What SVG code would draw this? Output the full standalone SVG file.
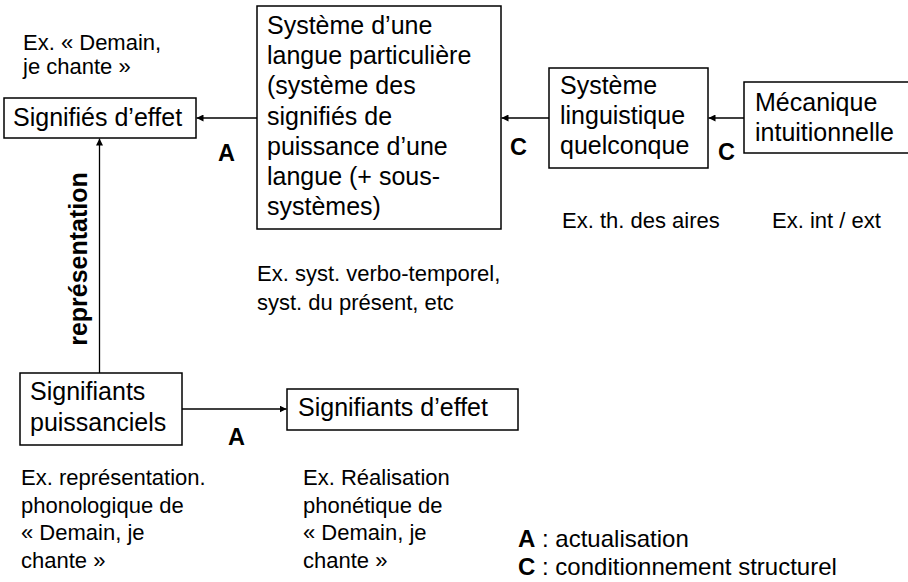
<svg xmlns="http://www.w3.org/2000/svg" width="908" height="582" viewBox="0 0 908 582">
  <style>
    .box { fill: #ffffff; stroke: #000000; stroke-width: 1.5; }
    .node { font-family: "Liberation Sans", Arial, sans-serif; font-size: 25px; fill: #000000; }
    .ex { font-family: "Liberation Sans", Arial, sans-serif; font-size: 22px; fill: #000000; }
    .lbl { font-family: "Liberation Sans", Arial, sans-serif; font-size: 23.5px; font-weight: bold; fill: #000000; }
    .vlbl { font-family: "Liberation Sans", Arial, sans-serif; font-size: 25px; font-weight: bold; fill: #000000; }
    .leg { font-family: "Liberation Sans", Arial, sans-serif; font-size: 24px; fill: #000000; }
    .edge { stroke: #000000; stroke-width: 1.3; fill: none; marker-end: url(#arr); }
  </style>
  <defs>
    <marker id="arr" viewBox="0 0 10 10" refX="10" refY="5" markerWidth="7" markerHeight="7" markerUnits="userSpaceOnUse" orient="auto">
      <path d="M0,0 L10,5 L0,10 z" fill="#000000"/>
    </marker>
  </defs>
  <rect width="908" height="582" fill="#ffffff"/>

  <g id="connectors">
    <line class="edge" x1="257" y1="118" x2="196.5" y2="118"/>
    <line class="edge" x1="549" y1="118" x2="501.5" y2="118"/>
    <line class="edge" x1="744" y1="118" x2="708.5" y2="118"/>
    <line class="edge" x1="99.5" y1="373" x2="99.5" y2="138.5"/>
    <line class="edge" x1="182" y1="409" x2="286.5" y2="409"/>
    <text class="lbl" x="218" y="161">A</text>
    <text class="lbl" x="510" y="155">C</text>
    <text class="lbl" x="718" y="160">C</text>
    <text class="lbl" x="228" y="445">A</text>
    <text class="vlbl" transform="translate(86.5,259) rotate(-90)" text-anchor="middle">représentation</text>
  </g>

  <g id="signifies-effet">
    <rect class="box" x="4" y="98" width="192" height="40"/>
    <text class="node" x="13" y="126">Signifiés d’effet</text>
  </g>

  <g id="systeme-langue">
    <rect class="box" x="257" y="6" width="244" height="223"/>
    <text class="node" x="267" y="34">Système d’une</text>
    <text class="node" x="267" y="64">langue particulière</text>
    <text class="node" x="267" y="94">(système des</text>
    <text class="node" x="267" y="124.5">signifiés de</text>
    <text class="node" x="267" y="155">puissance d’une</text>
    <text class="node" x="267" y="185">langue (+ sous-</text>
    <text class="node" x="267" y="215">systèmes)</text>
  </g>

  <g id="systeme-linguistique">
    <rect class="box" x="549" y="68" width="159" height="100"/>
    <text class="node" x="560" y="94">Système</text>
    <text class="node" x="560" y="124">linguistique</text>
    <text class="node" x="560" y="154">quelconque</text>
  </g>

  <g id="mecanique">
    <rect class="box" x="744" y="82" width="170" height="71"/>
    <text class="node" x="755" y="111">Mécanique</text>
    <text class="node" x="755" y="141">intuitionnelle</text>
  </g>

  <g id="signifiants-puissanciels">
    <rect class="box" x="20" y="373" width="162" height="72"/>
    <text class="node" x="30" y="400">Signifiants</text>
    <text class="node" x="30" y="431">puissanciels</text>
  </g>

  <g id="signifiants-effet">
    <rect class="box" x="287" y="389" width="231" height="41"/>
    <text class="node" x="298" y="416">Signifiants d’effet</text>
  </g>

  <g id="examples">
    <text class="ex" x="23" y="50">Ex. « Demain,</text>
    <text class="ex" x="23" y="74">je chante »</text>
    <text class="ex" x="257" y="281">Ex. syst. verbo-temporel,</text>
    <text class="ex" x="257" y="310">syst. du présent, etc</text>
    <text class="ex" x="562" y="228">Ex. th. des aires</text>
    <text class="ex" x="772" y="228">Ex. int / ext</text>
    <text class="ex" x="21" y="485">Ex. représentation.</text>
    <text class="ex" x="21" y="513">phonologique de</text>
    <text class="ex" x="21" y="540">« Demain, je</text>
    <text class="ex" x="21" y="568">chante »</text>
    <text class="ex" x="303" y="485">Ex. Réalisation</text>
    <text class="ex" x="303" y="513">phonétique de</text>
    <text class="ex" x="303" y="540">« Demain, je</text>
    <text class="ex" x="303" y="568">chante »</text>
  </g>

  <g id="legend">
    <text class="leg" x="518" y="547"><tspan font-weight="bold">A</tspan> : actualisation</text>
    <text class="leg" x="518" y="575"><tspan font-weight="bold">C</tspan> : conditionnement structurel</text>
  </g>
</svg>
